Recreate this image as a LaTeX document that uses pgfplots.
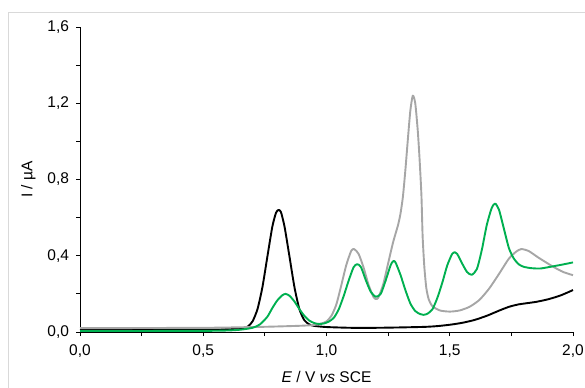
\documentclass[border=0pt]{standalone}
\usepackage{pgfplots}
\pgfplotsset{compat=1.18}
\usepackage{fontspec}
\setmainfont{Liberation Sans}
\definecolor{exgreen}{HTML}{00B050}
\definecolor{exgray}{HTML}{A6A6A6}
\begin{document}
\begin{tikzpicture}
\path[use as bounding box] (0,0) rectangle (585bp,388bp);
\draw[black!15, line width=1bp] (8bp,0) -- (8bp,375bp) -- (585bp,375bp);
\begin{axis}[
  at={(80bp,56bp)}, anchor=south west,
  scale only axis, width=493bp, height=305bp,
  xmin=0, xmax=2, ymin=0, ymax=1.6,
  axis x line=bottom, axis y line=left,
  axis line style={-, line width=1bp, black},
  xtick={0,0.5,1,1.5,2}, minor xtick={0.25,0.75,1.25,1.75},
  ytick={0,0.4,0.8,1.2,1.6}, minor ytick={0.2,0.6,1.0,1.4},
  tick align=outside, major tick length=4bp, minor tick length=4bp,
  tick style={black, line width=0.8bp},
  /pgf/number format/use comma,
  /pgf/number format/fixed,
  /pgf/number format/fixed zerofill,
  /pgf/number format/precision=1,
  /pgf/number format/assume math mode=true,
  tick label style={font=\fontsize{15.5bp}{18bp}\selectfont},
  xticklabel style={yshift=-5bp},
  yticklabel style={xshift=-3.5bp},
  label style={font=\fontsize{15.5bp}{18bp}\selectfont},
  xlabel={\textit{E} / V \textit{vs} SCE},
  ylabel={I / µA},
  xlabel style={at={(axis description cs:0.5,-0.147)}, anchor=center},
  ylabel style={at={(axis description cs:-0.1045,0.5)}, anchor=center, rotate=0},
  clip=false,
  every axis plot/.append style={line width=1.9bp, line join=round, smooth, tension=0.4},
]
% black
\addplot[black] coordinates {
(0.00,0.010) (0.30,0.011) (0.55,0.013) (0.62,0.015) (0.65,0.018) (0.68,0.028)
(0.70,0.056) (0.72,0.12) (0.74,0.235) (0.76,0.394) (0.78,0.551) (0.795,0.625)
(0.805,0.640) (0.815,0.630) (0.83,0.551) (0.85,0.394) (0.87,0.235) (0.89,0.12)
(0.91,0.062) (0.93,0.040) (0.95,0.032) (1.00,0.026) (1.10,0.022) (1.20,0.022)
(1.30,0.024) (1.40,0.027) (1.45,0.031) (1.50,0.038) (1.55,0.048) (1.60,0.063)
(1.65,0.085) (1.70,0.112) (1.74,0.132) (1.78,0.145) (1.85,0.158) (1.90,0.172)
(1.95,0.192) (2.00,0.220)
};
% gray
\addplot[exgray] coordinates {
(0.00,0.020) (0.50,0.022) (0.70,0.026) (0.80,0.029) (0.90,0.033) (0.95,0.037)
(0.98,0.045) (1.00,0.056) (1.02,0.085) (1.04,0.145) (1.06,0.245) (1.08,0.35)
(1.10,0.425) (1.112,0.435) (1.13,0.41) (1.15,0.34) (1.17,0.25) (1.19,0.185)
(1.20,0.173) (1.21,0.18) (1.23,0.25) (1.25,0.36) (1.27,0.47) (1.29,0.56)
(1.30,0.62) (1.31,0.71) (1.32,0.85) (1.33,1.01) (1.34,1.16) (1.35,1.24)
(1.36,1.20) (1.37,1.06) (1.377,0.92) (1.385,0.72) (1.39,0.50) (1.397,0.34)
(1.405,0.23) (1.415,0.17) (1.43,0.135) (1.46,0.113) (1.50,0.107) (1.54,0.113)
(1.58,0.132) (1.62,0.168) (1.66,0.228) (1.70,0.305) (1.74,0.385) (1.77,0.422)
(1.79,0.435) (1.82,0.425) (1.86,0.39) (1.92,0.342) (1.96,0.315) (2.00,0.298)
};
% green
\addplot[exgreen] coordinates {
(0.00,0.005) (0.50,0.006) (0.60,0.008) (0.65,0.012) (0.70,0.022) (0.73,0.04)
(0.76,0.08) (0.78,0.125) (0.80,0.165) (0.82,0.192) (0.834,0.200) (0.85,0.19)
(0.87,0.16) (0.89,0.12) (0.91,0.085) (0.93,0.06) (0.95,0.047) (0.97,0.042)
(0.99,0.045) (1.01,0.055) (1.03,0.075) (1.05,0.12) (1.07,0.19) (1.09,0.27)
(1.11,0.34) (1.125,0.356) (1.14,0.34) (1.16,0.27) (1.18,0.21) (1.20,0.185)
(1.22,0.20) (1.24,0.27) (1.26,0.35) (1.271,0.372) (1.28,0.365) (1.30,0.30)
(1.32,0.22) (1.34,0.15) (1.36,0.11) (1.38,0.094) (1.393,0.090) (1.41,0.096)
(1.43,0.12) (1.45,0.18) (1.47,0.26) (1.49,0.35) (1.51,0.41) (1.521,0.418)
(1.53,0.41) (1.55,0.36) (1.57,0.315) (1.589,0.30) (1.61,0.33) (1.63,0.43)
(1.65,0.56) (1.67,0.65) (1.684,0.674) (1.70,0.64) (1.72,0.54) (1.74,0.44)
(1.76,0.385) (1.78,0.355) (1.80,0.342) (1.83,0.335) (1.866,0.333) (1.90,0.34)
(1.95,0.352) (2.00,0.365)
};
\end{axis}
\end{tikzpicture}
\end{document}
